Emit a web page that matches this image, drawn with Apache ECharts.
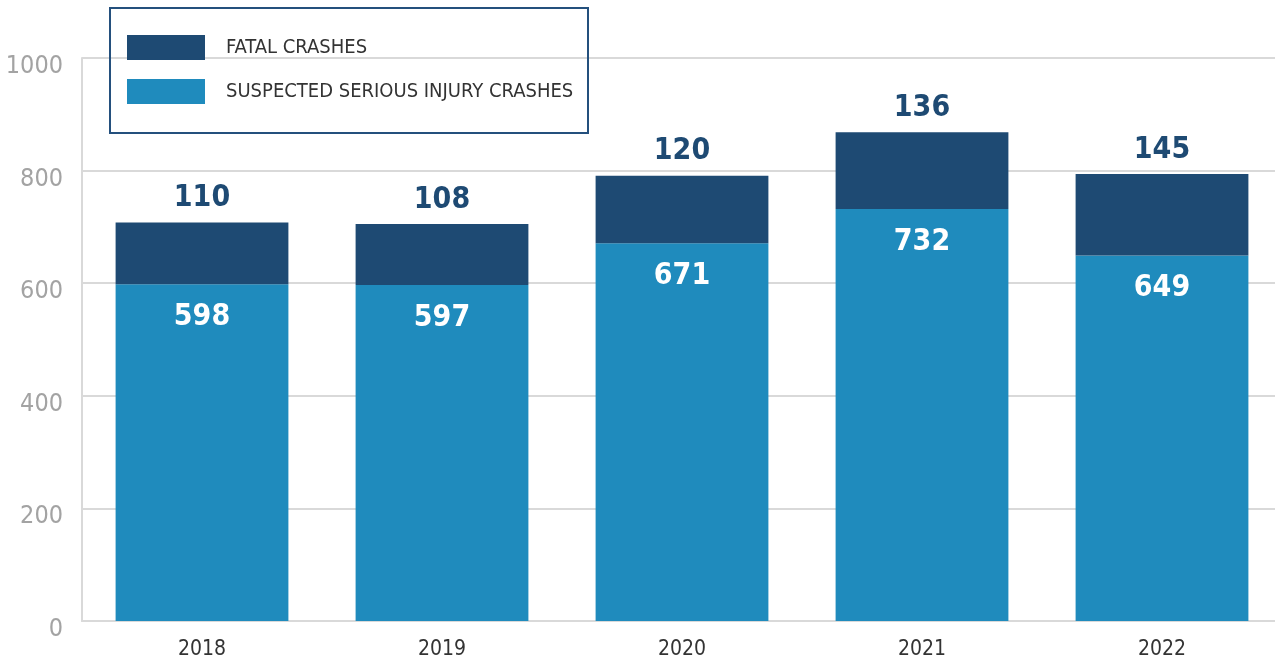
<!DOCTYPE html>
<html>
<head>
<meta charset="utf-8">
<script src="https://cdn.jsdelivr.net/npm/echarts@6/dist/echarts.min.js"></script>
<style>
html,body{margin:0;padding:0;background:#fff;}
#chart{width:1275px;height:662px;}
</style>
</head>
<body>
<div id="chart"></div>
<script>
const years = ['2018', '2019', '2020', '2021', '2022'];
const seriousCrashes = [598, 597, 671, 732, 649];
const fatalCrashes = [110, 108, 120, 136, 145];
const seriesNames = ['FATAL CRASHES', 'SUSPECTED SERIOUS INJURY CRASHES'];

const NARROW = '"Liberation Sans Narrow", "Arial Narrow", "DejaVu Sans Condensed", sans-serif';
const DARK = '#1e4a73';
const LIGHT = '#1f8bbd';
const GRID = '#d9d9d9';

const chart = echarts.init(document.getElementById('chart'));
chart.setOption({
  animation: false,
  backgroundColor: '#ffffff',
  textStyle: { fontFamily: NARROW },
  grid: { left: 82, right: -7, top: 58, bottom: 41, containLabel: false, outerBoundsMode: 'none' },
  legend: {
    orient: 'vertical',
    left: 127,
    top: 35,
    padding: 0,
    itemWidth: 78,
    itemHeight: 25,
    itemGap: 19,
    icon: 'rect',
    data: seriesNames,
    textStyle: { fontFamily: NARROW, fontSize: 20, color: '#333333', padding: [5, 0, 0, 16] }
  },
  graphic: [{
    type: 'rect',
    left: 109, top: 7,
    shape: { width: 478, height: 125 },
    style: { fill: 'rgba(0,0,0,0)', stroke: '#24507d', lineWidth: 2 },
    z: 100
  }],
  xAxis: {
    type: 'category',
    data: years,
    axisLine: { show: true, lineStyle: { color: GRID, width: 2 } },
    axisTick: { show: false },
    axisLabel: { fontFamily: NARROW, fontSize: 21, color: '#333333', margin: 18 }
  },
  yAxis: {
    type: 'value',
    min: 0, max: 1000, interval: 200,
    axisLine: { show: true, lineStyle: { color: GRID, width: 2 } },
    axisTick: { show: false },
    splitLine: { show: true, lineStyle: { color: GRID, width: 2 } },
    axisLabel: {
      fontFamily: NARROW, fontSize: 25, color: '#a3a3a3', margin: 19,
      verticalAlign: 'top', lineHeight: 17,
      formatter: function (v) { return String(v); }
    }
  },
  series: [
    {
      name: seriesNames[1],
      type: 'bar',
      stack: 'total',
      data: seriousCrashes,
      barWidth: '72%',
      itemStyle: { color: LIGHT },
      label: {
        show: true, position: 'insideTop', distance: 18,
        fontFamily: NARROW, fontWeight: 'bold', fontSize: 30, color: '#ffffff'
      }
    },
    {
      name: seriesNames[0],
      type: 'bar',
      stack: 'total',
      data: fatalCrashes,
      barWidth: '72%',
      itemStyle: { color: DARK },
      label: {
        show: true, position: 'top', distance: 9,
        fontFamily: NARROW, fontWeight: 'bold', fontSize: 30, color: DARK
      }
    }
  ]
});
</script>
</body>
</html>
